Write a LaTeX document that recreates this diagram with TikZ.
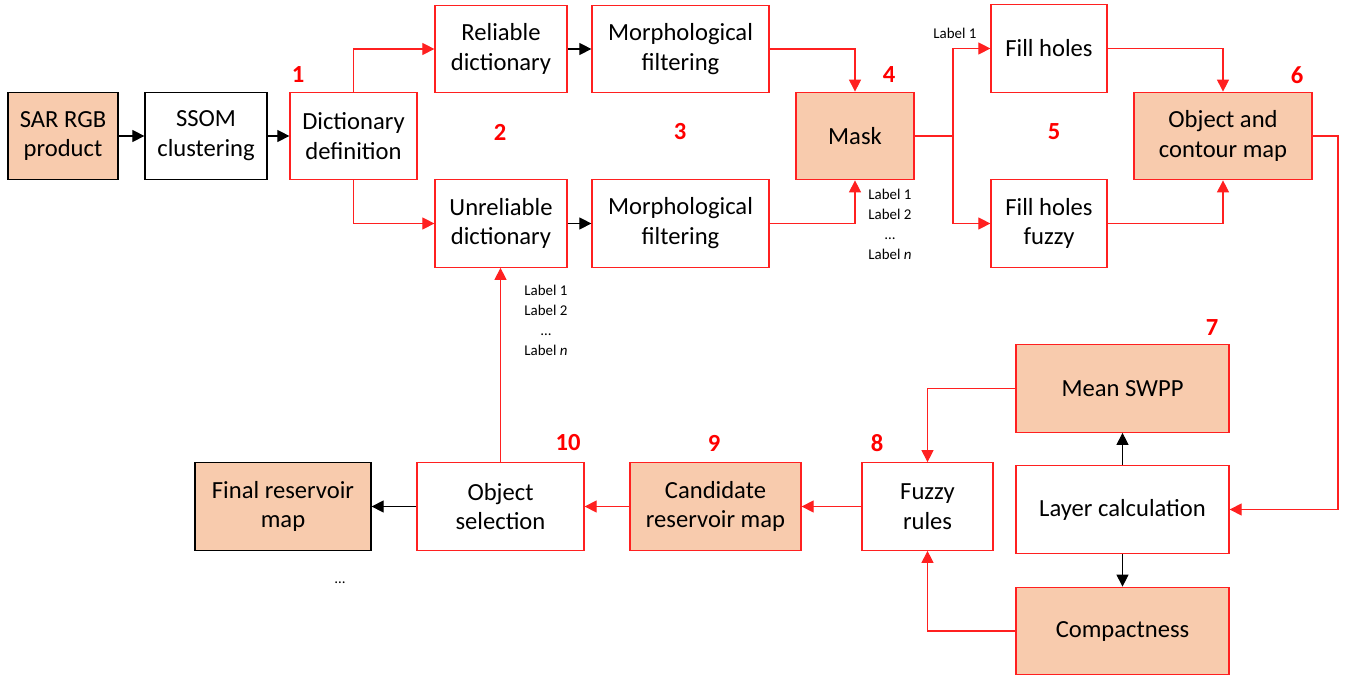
\documentclass[tikz,border=0pt]{standalone}
\usepackage{fontspec}
\setmainfont{Carlito}
\usetikzlibrary{arrows.meta}
\definecolor{peach}{HTML}{F8CBAD}
\definecolor{linered}{HTML}{FF2020}

\begin{document}
\begin{tikzpicture}[
    box/.style={draw=linered, line width=0.7pt, fill=white, minimum height=1.75cm,
      align=center, inner sep=2pt, font=\fontsize{14}{17}\selectfont},
    blackbox/.style={box, draw=black},
    peachbox/.style={box, fill=peach},
    stepno/.style={text=red, font=\fontsize{14}{17}\selectfont\bfseries},
    lbl/.style={font=\fontsize{8.5}{11.4}\selectfont, align=center, inner sep=0pt},
    redarrow/.style={draw=linered, line width=0.6pt, -{Triangle[length=2.4mm,width=2.4mm]}},
    blackarrow/.style={draw=black, line width=0.6pt, -{Triangle[length=2.4mm,width=2.4mm]}}
  ]
    \useasboundingbox (0,0) rectangle (27,-13.58);

    % upper chain
    \node[blackbox, fill=peach, minimum width=2.2cm] (sar) at (1.26,-2.72) {SAR RGB\\product};
    \node[blackbox, minimum width=2.44cm] (ssom) at (4.12,-2.72) {SSOM\\clustering};
    \node[box, minimum width=2.54cm] (dict) at (7.07,-2.72) {Dictionary\\definition};
    \node[box, minimum width=2.64cm] (rel) at (10.02,-0.98) {Reliable\\dictionary};
    \node[box, minimum width=2.64cm] (unrel) at (10.02,-4.47) {Unreliable\\dictionary};
    \node[box, minimum width=3.54cm] (morphA) at (13.61,-0.98) {Morphological\\filtering};
    \node[box, minimum width=3.54cm] (morphB) at (13.61,-4.47) {Morphological\\filtering};
    \node[peachbox, minimum width=2.36cm] (mask) at (17.1,-2.72) {Mask};
    \node[box, minimum width=2.32cm] (fill) at (20.98,-0.97) {Fill holes};
    \node[box, minimum width=2.32cm] (fillfz) at (20.98,-4.47) {Fill holes\\fuzzy};
    \node[peachbox, minimum width=3.56cm] (obj) at (24.46,-2.72) {Object and\\contour map};

    % lower chain
    \node[peachbox, minimum width=4.26cm] (swpp) at (22.45,-7.77) {Mean SWPP};
    \node[box, minimum width=4.26cm] (layer) at (22.45,-10.19) {Layer calculation};
    \node[peachbox, minimum width=4.26cm] (compact) at (22.45,-12.62) {Compactness};
    \node[box, minimum width=2.62cm] (fuzzy) at (18.55,-10.13) {Fuzzy\\rules};
    \node[peachbox, minimum width=3.42cm] (cand) at (14.31,-10.13) {Candidate\\reservoir map};
    \node[box, minimum width=3.34cm] (objsel) at (10.01,-10.13) {Object\\selection};
    \node[blackbox, fill=peach, minimum width=3.52cm] (final) at (5.66,-10.13) {Final reservoir\\map};

    % step numbers
    \node[stepno] (n1) at (5.96,-1.5) {1};
    \node[stepno] (n2) at (10.0,-2.64) {2};
    \node[stepno] (n3) at (13.6,-2.64) {3};
    \node[stepno] (n4) at (17.78,-1.5) {4};
    \node[stepno] (n5) at (21.08,-2.64) {5};
    \node[stepno] (n6) at (25.94,-1.5) {6};
    \node[stepno] (n7) at (24.24,-6.56) {7};
    \node[stepno] (n8) at (17.54,-8.86) {8};
    \node[stepno] (n9) at (14.28,-8.86) {9};
    \node[stepno] (n10) at (11.36,-8.86) {10};

    % small labels
    \node[lbl] (lblfill) at (19.1,-0.66) {Label 1};
    \node[lbl] (lblmask) at (17.8,-4.48) {Label 1\\Label 2\\\dots\\Label \textit{n}};
    \node[lbl] (lblsel) at (10.92,-6.4) {Label 1\\Label 2\\\dots\\Label \textit{n}};
    \node[lbl] (dots) at (6.8,-11.66) {\dots};

    \coordinate (split) at (19.06,-2.72);
    \coordinate (turn) at (26.76,-2.72);

    % connectors
    \draw[blackarrow] (sar) -- (ssom);
    \draw[blackarrow] (ssom) -- (dict);
    \draw[redarrow] (dict.north) |- (rel.west);
    \draw[redarrow] (dict.south) |- (unrel.west);
    \draw[blackarrow] (rel) -- (morphA);
    \draw[blackarrow] (unrel) -- (morphB);
    \draw[redarrow] (morphA.east) -| (mask.north);
    \draw[redarrow] (morphB.east) -| (mask.south);
    \draw[draw=linered, line width=0.6pt] (mask.east) -- (split);
    \draw[redarrow] (split) |- (fill.west);
    \draw[redarrow] (split) |- (fillfz.west);
    \draw[redarrow] (fill.east) -| (obj.north);
    \draw[redarrow] (fillfz.east) -| (obj.south);
    \draw[redarrow] (obj.east) -- (turn) |- (layer.east);
    \draw[blackarrow] (layer) -- (swpp);
    \draw[blackarrow] (layer) -- (compact);
    \draw[redarrow] (swpp.west) -| (fuzzy.north);
    \draw[redarrow] (compact.west) -| (fuzzy.south);
    \draw[redarrow] (fuzzy) -- (cand);
    \draw[redarrow] (cand) -- (objsel);
    \draw[blackarrow] (objsel) -- (final);
    \draw[redarrow] (objsel.north) -- (objsel.north |- unrel.south);
  \end{tikzpicture}
\end{document}
